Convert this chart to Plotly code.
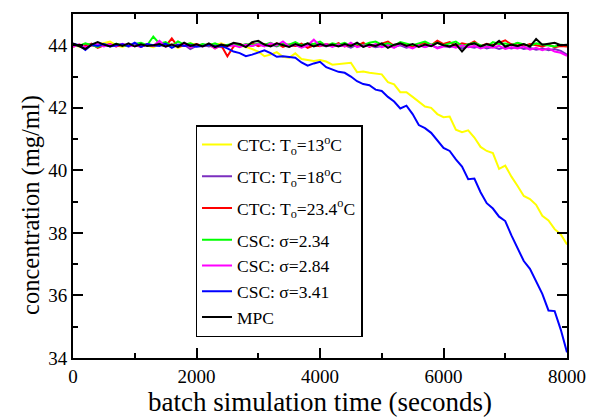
import plotly.graph_objects as go

# time grid (seconds)
time_s = list(range(0, 8001, 100))

ctc_13 = [44.00, 43.96, 44.05, 43.98, 44.02, 44.08, 44.12, 44.00, 43.95, 44.03,
          43.98, 44.05, 44.00, 43.94, 44.02, 43.97, 44.04, 43.92, 44.00, 44.06,
          44.02, 43.98, 44.04, 44.00, 44.06, 43.98, 44.03, 44.00, 43.95, 43.88,
          43.80,
          43.65, 43.70, 43.78, 43.63, 43.60, 43.74, 43.56, 43.53, 43.50, 43.53,
          43.48, 43.38, 43.40, 43.43, 43.44, 43.14, 43.16, 43.12, 43.10, 43.07,
          42.82, 42.75, 42.50, 42.50, 42.35, 42.20, 42.04, 42.00, 41.80, 41.70,
          41.72, 41.30, 41.22, 41.28, 41.05, 40.75, 40.62, 40.55, 40.05, 40.15,
          39.80, 39.50, 39.18, 39.08, 38.90, 38.55, 38.40, 38.12, 37.95, 37.63]

ctc_18 = [44.02, 43.98, 44.04, 44.00, 43.96, 44.02, 44.00, 43.97, 44.03, 43.99,
          44.01, 43.97, 44.03, 43.98, 44.02, 43.96, 44.00, 43.98, 44.02, 43.88,
          43.98, 44.02, 43.96, 44.00, 43.94, 43.98, 44.02, 43.96, 44.02, 43.98,
          44.04, 43.98, 44.02, 43.96, 44.05, 43.98, 44.00, 43.95, 44.02, 43.98,
          44.02, 43.96, 44.04, 43.98, 44.00, 43.92, 44.02, 43.96, 44.00, 43.94,
          43.98, 44.02, 43.95, 44.00, 43.92, 43.98, 44.03, 43.95, 44.00, 43.92,
          43.98, 43.94, 44.00, 43.90, 43.96, 43.92, 43.98, 43.90, 43.95, 43.88,
          43.94, 43.90, 43.96, 43.88, 43.92, 43.86, 43.90, 43.84, 43.88, 43.82,
          43.70]

ctc_234 = [43.95, 44.02, 43.98, 44.05, 43.92, 44.00, 44.04, 43.96, 44.02, 43.98,
           44.05, 43.95, 44.03, 43.98, 44.06, 43.97, 44.22, 43.95, 44.00, 43.96,
           44.04, 43.98, 44.02, 43.90, 44.00, 43.65, 43.96, 44.04, 43.98, 44.06,
           43.97, 44.04, 43.99, 44.06, 43.95, 44.02, 43.98, 44.05, 43.92, 44.00,
           43.97, 44.04, 43.99, 44.07, 43.96, 44.03, 43.98, 44.08, 43.95, 44.02,
           44.05, 44.12, 43.98, 44.06, 44.00, 43.95, 44.03, 44.08, 44.00, 44.15,
           44.04, 44.10, 43.98, 44.06, 44.02, 44.12, 43.97, 44.05, 44.00, 44.08,
           44.16, 44.02, 44.06, 43.98, 44.04, 44.00, 43.96, 44.02, 43.94, 43.98,
           43.96]

csc_234 = [44.00, 43.98, 44.06, 44.00, 43.95, 44.04, 43.98, 44.05, 44.00, 43.96,
           44.04, 44.08, 44.00, 44.28, 44.05, 44.10, 43.98, 44.12, 44.02, 44.06,
           43.98, 44.04, 44.00, 44.06, 43.98, 44.02, 44.05, 43.98, 44.04, 44.00,
           44.06, 44.02, 44.08, 43.98, 44.05, 44.02, 44.10, 44.00, 44.06, 44.04,
           44.12, 43.98, 44.06, 44.02, 44.08, 43.98, 44.04, 44.00, 44.08, 44.12,
           44.02, 44.06, 43.98, 44.10, 44.04, 44.00, 44.06, 44.12, 44.02, 44.08,
           44.00, 44.06, 44.12, 43.98, 44.04, 44.08, 44.00, 43.95, 44.10, 44.04,
           44.06, 44.00, 44.08, 44.02, 43.98, 44.06, 44.02, 44.00, 43.96, 44.02,
           44.00]

csc_284 = [43.96, 44.02, 43.94, 44.00, 44.04, 43.96, 44.02, 43.98, 44.05, 43.96,
           44.00, 43.95, 44.04, 43.98, 44.14, 43.96, 44.02, 43.98, 44.04, 43.94,
           44.00, 43.96, 44.04, 43.90, 44.02, 43.96, 44.00, 43.94, 44.02, 43.98,
           44.04, 43.96, 44.06, 44.00, 44.12, 43.96, 44.02, 43.92, 44.00, 44.18,
           43.98, 44.04, 43.95, 44.02, 43.96, 44.08, 43.94, 44.00, 43.96, 44.04,
           43.94, 44.00, 43.92, 44.04, 43.96, 43.90, 44.00, 43.94, 44.02, 43.90,
           43.96, 43.98, 43.92, 44.00, 43.94, 43.98, 43.90, 43.96, 43.92, 43.98,
           43.88, 43.94, 43.90, 43.96, 43.86, 43.92, 43.84, 43.90, 43.80, 43.76,
           43.66]

csc_341 = [44.05, 44.00, 43.85, 44.02, 43.98, 44.04, 43.96, 44.00, 44.03, 43.97,
           44.08, 43.95, 44.04, 44.00, 43.98, 44.05, 43.92, 44.02, 43.98, 44.00,
           43.95, 43.98, 44.02, 43.96, 43.98, 43.90, 43.80,
           43.75, 43.65, 43.70, 43.78, 43.84, 43.75, 43.63, 43.65, 43.62, 43.60,
           43.45, 43.35, 43.42, 43.47, 43.30, 43.22, 43.15, 43.12, 43.00, 42.85,
           42.76, 42.72, 42.58, 42.54, 42.35, 42.20, 41.98, 42.07, 41.80, 41.45,
           41.35, 41.20, 40.95, 40.72, 40.62, 40.35, 40.12, 39.72, 39.74, 39.30,
           38.95, 38.78, 38.52, 38.38, 37.92, 37.50, 37.10, 36.85, 36.45, 36.05,
           35.52, 35.50, 34.90, 34.18]

mpc = [44.06, 43.98, 43.88, 44.02, 44.10, 44.02, 43.96, 44.05, 43.98, 44.06,
       43.96, 44.03, 43.98, 44.00, 44.04, 43.96, 44.02, 43.95, 44.08, 43.98,
       44.03, 43.96, 44.06, 43.94, 44.02, 43.98, 44.08, 44.04, 43.94, 44.10,
       44.14, 44.02, 43.96, 44.06, 44.00, 43.95, 44.04, 43.98, 44.06, 43.96,
       44.04, 43.98, 44.02, 43.96, 44.04, 43.98, 44.08, 43.95, 44.02, 43.98,
       44.06, 43.92, 44.02, 44.06, 43.98, 44.04, 43.95, 44.02, 43.97, 44.08,
       44.00, 43.96, 44.04, 43.80, 44.02, 44.06, 43.96, 44.04, 43.98, 44.14,
       43.96, 44.02, 43.98, 44.04, 43.96, 44.20, 44.02, 44.06, 44.08, 44.00,
       44.02]

series_names = ["CTC: T<sub>o</sub>=13<sup>o</sup>C",
                "CTC: T<sub>o</sub>=18<sup>o</sup>C",
                "CTC: T<sub>o</sub>=23.4<sup>o</sup>C",
                "CSC: σ=2.34",
                "CSC: σ=2.84",
                "CSC: σ=3.41",
                "MPC"]
series_values = [ctc_13, ctc_18, ctc_234, csc_234, csc_284, csc_341, mpc]
series_colors = ["#ffff00", "#7b2fbf", "#ff0000", "#00ff00", "#ff00ff", "#0000ff", "#000000"]
series_groups = ["g1", "g2", "g3", "g4", "g4", "g4", "g4"]

x_title = "batch simulation time (seconds)"
y_title = "concentration (mg/ml)"

FONT = "Times New Roman, Liberation Serif, serif"

fig = go.Figure()
for name, vals, col, grp in zip(series_names, series_values, series_colors, series_groups):
    fig.add_trace(go.Scatter(x=time_s, y=vals, mode="lines", name=name,
                             legendgroup=grp,
                             line=dict(color=col, width=2)))

axis_common = dict(showline=True, linecolor="black", linewidth=2, mirror="allticks",
                   ticks="inside", ticklen=10, tickwidth=2, tickcolor="black",
                   showgrid=False, zeroline=False,
                   tickfont=dict(family=FONT, size=19, color="black"))

fig.update_xaxes(range=[0, 8000], tick0=0, dtick=2000,
                 minor=dict(ticks="inside", ticklen=5, tickwidth=2, dtick=1000, tickcolor="black"),
                 title=dict(text=x_title, standoff=0,
                            font=dict(family=FONT, size=27, color="black")),
                 **axis_common)
fig.update_yaxes(range=[34, 45], tick0=34, dtick=2,
                 minor=dict(ticks="inside", ticklen=5, tickwidth=2, dtick=1, tickcolor="black"),
                 **axis_common)

fig.add_annotation(text=y_title, textangle=-90, xref="paper", yref="paper",
                   x=-0.085, y=0.445, xanchor="center", yanchor="middle",
                   showarrow=False, font=dict(family=FONT, size=24.5, color="black"))

fig.update_layout(
    width=598, height=418,
    margin=dict(l=73, r=21, t=14, b=51),
    paper_bgcolor="white", plot_bgcolor="white",
    showlegend=True,
    legend=dict(x=0.248, y=0.677, xanchor="left", yanchor="top",
                bgcolor="white", bordercolor="black", borderwidth=1.5,
                tracegroupgap=6,
                font=dict(family=FONT, size=17.5, color="black")),
    font=dict(family=FONT, color="black"),
)

fig.write_html("out.html")
